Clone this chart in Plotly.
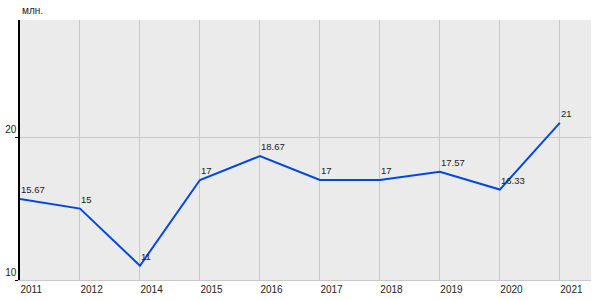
import plotly.graph_objects as go

years = ["2011", "2012", "2014", "2015", "2016", "2017", "2018", "2019", "2020", "2021"]
values = [15.67, 15, 11, 17, 18.67, 17, 17, 17.57, 16.33, 21]
labels = ["15.67", "15", "11", "17", "18.67", "17", "17", "17.57", "16.33", "21"]
unit_label = "млн."

font = dict(family="Liberation Sans, Arial, sans-serif", size=10, color="#222222")
label_font = dict(family="Liberation Sans, Arial, sans-serif", size=9.5, color="#222222")

fig = go.Figure()
fig.add_trace(go.Scatter(
    x=years, y=values, mode="lines",
    line=dict(color="#0047e0", width=2),
    hoverinfo="skip", showlegend=False,
))

for i, (y, t) in enumerate(zip(values, labels)):
    fig.add_annotation(x=i, y=y, xref="x", yref="y", text=t, showarrow=False,
                       xanchor="left", yanchor="bottom", xshift=-1, yshift=2,
                       font=label_font)

fig.add_annotation(xref="paper", yref="paper", x=0, y=1, text=unit_label,
                   showarrow=False, xanchor="left", yanchor="bottom", yshift=2,
                   font=font)

fig.update_layout(
    width=600, height=300,
    margin=dict(l=20, r=9, t=20, b=20),
    paper_bgcolor="white", plot_bgcolor="#ebebeb",
    font=font,
)
fig.update_xaxes(type="category", range=[0, 9.52], showgrid=True,
                 gridcolor="#c8c8c8", gridwidth=1, ticks="", showline=True,
                 linecolor="#c8c8c8", linewidth=1, tickfont=font, zeroline=False,
                 ticklabelposition="outside right", automargin=False)
fig.update_yaxes(range=[10, 28.2], tickvals=[10, 20], showgrid=True,
                 gridcolor="#c8c8c8", gridwidth=1, showline=True,
                 linecolor="black", linewidth=1.5, ticks="outside", ticklen=3,
                 tickcolor="black", ticklabelposition="outside top",
                 tickfont=font, zeroline=False, automargin=False)

fig.write_html("out.html")
